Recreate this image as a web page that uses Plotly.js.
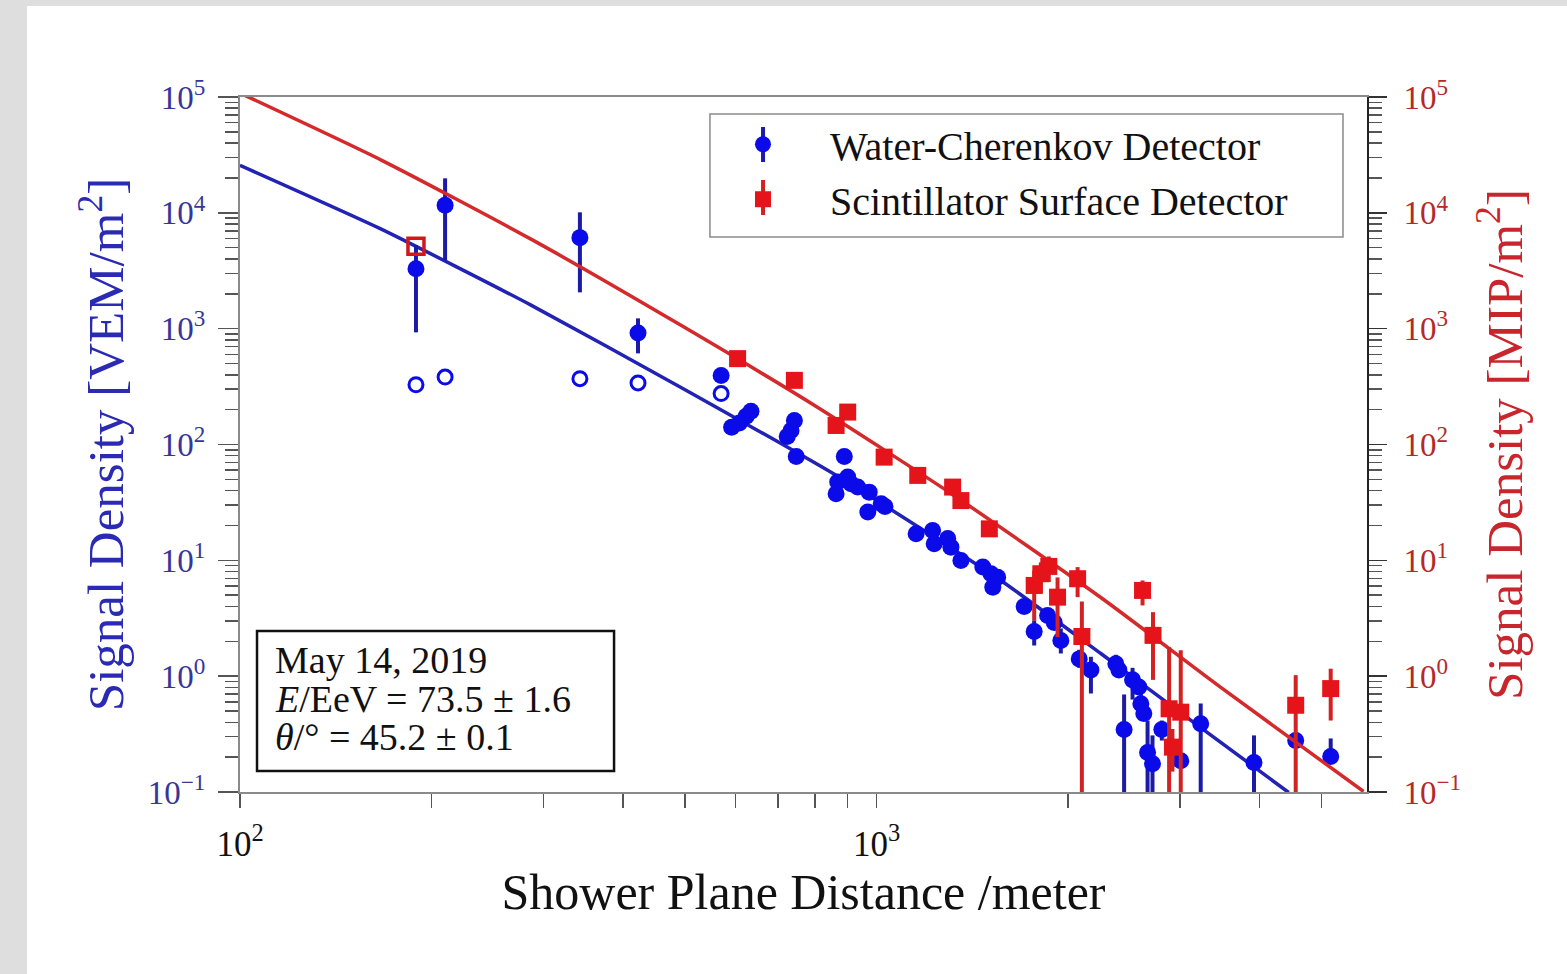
<!DOCTYPE html>
<html>
<head>
<meta charset="utf-8">
<script src="https://cdn.plot.ly/plotly-3.0.1.min.js"></script>
<style>
  html, body { margin: 0; padding: 0; background: #dedede; width: 1567px; height: 974px; overflow: hidden; }
  #chart { position: absolute; left: 27px; top: 6px; width: 1540px; height: 968px; background: #fff; }
</style>
</head>
<body>
<div id="chart"></div>
<script>
// ---------- Data ----------
// Water-Cherenkov Detector (filled markers)
const wcdX = [189, 210, 342, 422, 570, 592, 609, 624, 635, 724, 734, 743, 748, 864, 869, 890, 901, 912, 934, 969, 974, 1017, 1031, 1154, 1225, 1232, 1294, 1309, 1357, 1469, 1513, 1523, 1550, 1706, 1769, 1857, 1902, 1948, 2082, 2172, 2377, 2403, 2449, 2525, 2583, 2602, 2630, 2666, 2714, 2807, 3006, 3231, 3918, 4556, 5171];
const wcdY = [3297, 11610, 6108, 916, 395, 141, 153, 175, 194, 117.5, 132, 161.5, 78.9, 37.6, 47.4, 78.9, 52.3, 45.9, 42.9, 26.1, 38.8, 30.8, 29.2, 17.0, 18.1, 13.9, 15.4, 13.0, 9.98, 8.74, 7.66, 5.87, 7.16, 4.00, 2.43, 3.34, 2.91, 2.03, 1.41, 1.13, 1.28, 1.13, 0.347, 0.929, 0.808, 0.578, 0.476, 0.219, 0.175, 0.347, 0.186, 0.388, 0.180, 0.278, 0.2025];
const wcdHi = [5241, 19860, 10100, 1227, null, null, null, null, null, null, null, null, null, null, null, null, null, null, null, null, null, null, null, null, null, null, null, null, null, null, null, null, null, null, 3.03, null, null, 2.58, 1.69, 1.47, 1.53, null, 0.695, 1.18, null, 0.752, null, 0.414, 0.308, 0.414, null, 0.581, 0.308, 0.308, 0.290];
const wcdLo = [929, 3888, 2058, 612, null, null, null, null, null, null, null, null, null, null, null, null, null, null, null, null, null, null, null, null, null, null, null, null, null, null, null, null, null, null, 1.84, null, null, 1.57, 1.18, 0.709, 1.03, null, 0.09, 0.628, null, 0.414, null, 0.09, 0.09, 0.278, null, 0.09, 0.09, 0.247, 0.176];
// Water-Cherenkov Detector (open markers)
const wcdOpenX = [189, 210, 342, 422, 570];
const wcdOpenY = [328, 382, 370, 340, 275];
// Scintillator Surface Detector (filled markers)
const ssdX = [605, 743, 864, 901, 1028, 1161, 1317, 1357, 1504, 1769, 1812, 1865, 1925, 2070, 2102, 2618, 2719, 2882, 3006, 2917, 4556, 5171];
const ssdY = [551, 358, 146, 190.5, 77.8, 54.1, 42.9, 32.8, 18.7, 6.07, 7.66, 8.86, 4.81, 6.94, 2.20, 5.50, 2.25, 0.523, 0.489, 0.244, 0.561, 0.781];
const ssdHi = [null, null, null, null, null, null, null, null, null, 8.18, 9.6, 10.8, 7.12, 8.74, 4.42, 6.70, 3.57, 1.78, 1.67, 0.35, 1.02, 1.16];
const ssdLo = [null, null, null, null, null, null, null, null, null, 3.02, 5.2, 6.5, 2.17, 4.81, 0.09, 4.08, 0.929, 0.09, 0.09, 0.15, 0.09, 0.414];
// Scintillator Surface Detector (open marker)
const ssdOpenX = [189];
const ssdOpenY = [5137];
// Fitted lateral distribution functions
const wcdFitX = [100, 167, 287, 493, 880, 1568, 2251, 3231, 4442];
const wcdFitY = [25700, 7200, 1590, 311, 51, 6.7, 1.57, 0.36, 0.099];
const ssdFitX = [100, 167, 287, 493, 804, 1309, 2251, 3474, 5824];
const ssdFitY = [108000, 28400, 5900, 1068, 213, 37.8, 4.78, 0.799, 0.101];

// Tick labels
const xTickVals = [100, 1000];
const xTickText = ['10<sup>2</sup>', '10<sup>3</sup>'];
const yTickVals = [0.1, 1, 10, 100, 1000, 10000, 100000];
const yTickText = ['10<sup>−1</sup>', '10<sup>0</sup>', '10<sup>1</sup>', '10<sup>2</sup>', '10<sup>3</sup>', '10<sup>4</sup>', '10<sup>5</sup>'];

// Labels
const xTitle = 'Shower Plane Distance /meter';
const yTitleLeft = 'Signal Density [VEM/m<sup>2</sup>]';
const yTitleRight = 'Signal Density [MIP/m<sup>2</sup>]';
const wcdName = 'Water-Cherenkov Detector';
const ssdName = 'Scintillator Surface Detector';
const infoLines = ['May 14, 2019', '<i>E</i>/EeV = 73.5 ± 1.6', '<i>θ</i>/° = 45.2 ± 0.1'];

// ---------- Helpers ----------
const plusErr = (y, hi) => y.map((v, i) => hi[i] == null ? 0 : hi[i] - v);
const minusErr = (y, lo) => y.map((v, i) => lo[i] == null ? 0 : v - lo[i]);
const mantissas = [2, 3, 4, 5, 6, 7, 8, 9];
const minorVals = (decades) => decades.flatMap(d => mantissas.map(m => m * Math.pow(10, d)));

const FONT = 'Liberation Serif, Times New Roman, serif';
const BLUE = '#0b0bea';
const BLUE_BAR = '#1b1ba6';
const BLUE_LINE = '#2222b4';
const RED = '#e4141a';
const RED_BAR = '#d22222';
const RED_LINE = '#d42a2c';

const traces = [
  { x: wcdFitX, y: wcdFitY, mode: 'lines', line: { color: BLUE_LINE, width: 3.5, shape: 'spline', smoothing: 0.5 }, showlegend: false, hoverinfo: 'skip' },
  { x: wcdOpenX, y: wcdOpenY, mode: 'markers', showlegend: false,
    marker: { symbol: 'circle-open', size: 14, color: BLUE, line: { width: 3, color: BLUE } } },
  { x: wcdX, y: wcdY, mode: 'markers', name: wcdName, legendgroup: 'wcd',
    marker: { symbol: 'circle', size: 17, color: BLUE },
    error_y: { type: 'data', symmetric: false, array: plusErr(wcdY, wcdHi), arrayminus: minusErr(wcdY, wcdLo),
               color: BLUE_BAR, thickness: 4, width: 0 } },
  { x: ssdFitX, y: ssdFitY, yaxis: 'y2', mode: 'lines', line: { color: RED_LINE, width: 3.5, shape: 'spline', smoothing: 0.6 }, showlegend: false, hoverinfo: 'skip' },
  { x: ssdOpenX, y: ssdOpenY, yaxis: 'y2', mode: 'markers', showlegend: false,
    marker: { symbol: 'square-open', size: 16, color: '#d01818', line: { width: 3.5, color: '#d01818' } } },
  { x: ssdX, y: ssdY, yaxis: 'y2', mode: 'markers', name: ssdName, legendgroup: 'ssd',
    marker: { symbol: 'square', size: 17, color: RED },
    error_y: { type: 'data', symmetric: false, array: plusErr(ssdY, ssdHi), arrayminus: minusErr(ssdY, ssdLo),
               color: RED_BAR, thickness: 4, width: 0 } }
];

const yCommon = {
  type: 'log', range: [-1, 5], tickmode: 'array', tickvals: yTickVals, ticktext: yTickText,
  showgrid: false, zeroline: false, showline: true, ticks: 'outside',
  minor: { tickmode: 'array', tickvals: minorVals([-1, 0, 1, 2, 3, 4]), ticks: 'outside', ticklen: 13, tickcolor: '#555', tickwidth: 1.5 }
};

// legend icon error-bar strokes (paper coordinates)
const legendBarX = 0.4641;

const layout = {
  width: 1540, height: 968,
  margin: { l: 213, r: 200, t: 91, b: 182 },
  paper_bgcolor: '#ffffff', plot_bgcolor: '#ffffff',
  font: { family: FONT, color: '#111' },
  showlegend: true,
  legend: {
    x: 0.4046, y: 0.9788, xanchor: 'left', yanchor: 'top',
    bgcolor: 'rgba(0,0,0,0)', borderwidth: 0,
    font: { family: FONT, size: 40, color: '#111' },
    itemwidth: 124, tracegroupgap: 0
  },
  xaxis: {
    type: 'log', range: [2, 3.7706], tickmode: 'array', tickvals: xTickVals, ticktext: xTickText,
    showgrid: false, zeroline: false, showline: true, linecolor: '#8a8a8a', linewidth: 2, mirror: true,
    ticks: 'outside', ticklen: 14, tickwidth: 1.5, tickcolor: '#555',
    ticklabelstandoff: 6,
    tickfont: { family: FONT, size: 35, color: '#111' },
    minor: { tickmode: 'array', tickvals: minorVals([2, 3]), ticks: 'outside', ticklen: 14, tickcolor: '#555', tickwidth: 1.5 },
    title: { text: xTitle, font: { family: FONT, size: 50, color: '#111' }, standoff: 11 }
  },
  yaxis: Object.assign({}, yCommon, {
    linecolor: '#8a8a8a', linewidth: 2, ticklen: 20, tickwidth: 1.5, tickcolor: '#555',
    ticklabelstandoff: 6,
    tickfont: { family: FONT, size: 33, color: '#36369a' },
    title: { text: yTitleLeft, font: { family: FONT, size: 51, color: '#2a2ab4' }, standoff: 8 }
  }),
  yaxis2: Object.assign({}, yCommon, {
    overlaying: 'y', side: 'right',
    linecolor: '#222', linewidth: 2, ticklen: 18, tickwidth: 1.5, tickcolor: '#333',
    ticklabelstandoff: 10,
    tickfont: { family: FONT, size: 33, color: '#b42a2a' },
    title: { text: yTitleRight, font: { family: FONT, size: 51, color: '#c8262c' }, standoff: 26 }
  }),
  shapes: [
    { type: 'rect', xref: 'paper', yref: 'paper', x0: 0.4170, x1: 0.9787, y0: 0.7986, y1: 0.9755,
      line: { color: '#8a8a8a', width: 1.5 }, fillcolor: 'rgba(255,255,255,0.95)', layer: 'below' },
    { type: 'line', xref: 'paper', yref: 'paper', x0: legendBarX, x1: legendBarX, y0: 0.9065, y1: 0.9568,
      line: { color: BLUE_BAR, width: 4 }, layer: 'above' },
    { type: 'line', xref: 'paper', yref: 'paper', x0: legendBarX, x1: legendBarX, y0: 0.8302, y1: 0.8806,
      line: { color: RED_BAR, width: 4 }, layer: 'above' },
    { type: 'rect', xref: 'paper', yref: 'paper', x0: 0.0151, x1: 0.3319, y0: 0.0302, y1: 0.2317,
      line: { color: '#111', width: 2.5 }, fillcolor: '#ffffff', layer: 'above' }
  ],
  annotations: infoLines.map((t, i) => ({
    xref: 'paper', yref: 'paper', x: 0.0293, y: [0.1899, 0.1338, 0.0791][i],
    xanchor: 'left', yanchor: 'middle', showarrow: false, text: t,
    font: { family: FONT, size: 38, color: '#111' }
  }))
};

Plotly.newPlot('chart', traces, layout, { displayModeBar: false, staticPlot: true });
</script>
</body>
</html>
